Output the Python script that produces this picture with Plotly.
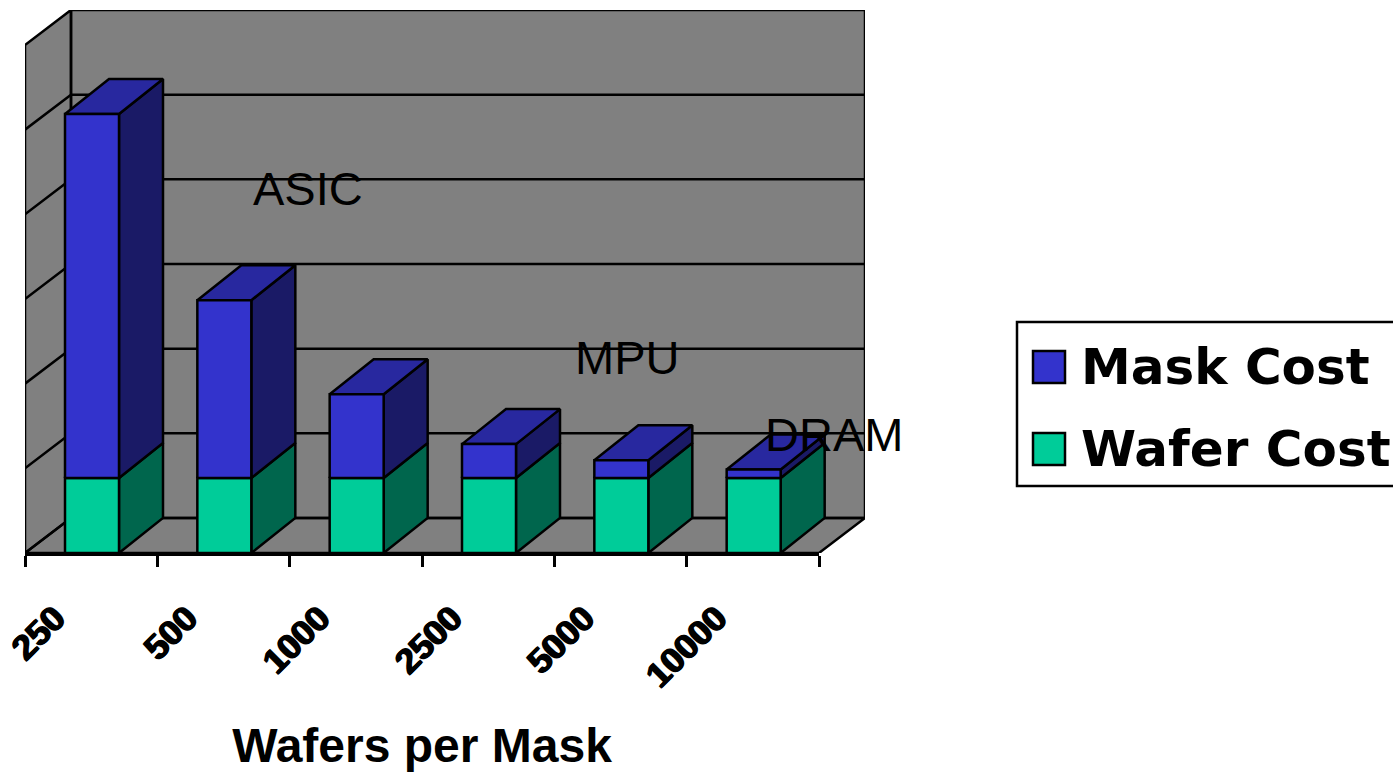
import plotly.graph_objects as go

categories = ["250", "500", "1000", "2500", "5000", "10000"]
wafer_cost = [0.886, 0.886, 0.886, 0.886, 0.886, 0.886]
mask_cost = [4.30, 2.10, 0.99, 0.40, 0.21, 0.10]
series_names = ["Mask Cost", "Wafer Cost"]
region_labels = ["ASIC", "MPU", "DRAM"]
region_x = [2.14, 4.547, 6.115]
region_y = [4.30, 2.31, 1.40]

W, H = 1393, 772
L, R, BACK_R, T, B = 25, 819, 865, 10, 553
UX = (R - L) / 6
UY = 84.67
Y_MAX = 6
DX, DY = 46 / UX, 35 / UY
BAR_DX, BAR_DY = 44 / UX, 35 / UY
BAR_L, BAR_W = 40 / UX, 54 / UX

GRAY = "#808080"
BLUE, BLUE_TOP, BLUE_SIDE = "#3333cc", "#28289f", "#1a1a66"
GREEN, GREEN_SIDE = "#00cc99", "#00664d"
LW = 2.5


def polys(rects):
    xs, ys = [], []
    for r in rects:
        xs += [p[0] for p in r] + [r[0][0], None]
        ys += [p[1] for p in r] + [r[0][1], None]
    return xs, ys


def face(rects, color):
    xs, ys = polys(rects)
    return go.Scatter(x=xs, y=ys, mode="lines", fill="toself", fillcolor=color,
                      line=dict(color="black", width=LW),
                      hoverinfo="skip", showlegend=False)


n = len(categories)
fig = go.Figure()

# walls and floor
fig.add_trace(face([
    [(0, 0), (DX, DY), (DX, Y_MAX + DY), (0, Y_MAX)],
    [(DX, DY), (n + DX, DY), (n + DX, Y_MAX + DY), (DX, Y_MAX + DY)],
    [(0, 0), (n, 0), (n + DX, DY), (DX, DY)],
], GRAY))

# gridlines
gx, gy = [], []
for v in range(1, Y_MAX):
    gx += [0, DX, n + DX, None]
    gy += [v, v + DY, v + DY, None]
fig.add_trace(go.Scatter(x=gx, y=gy, mode="lines", line=dict(color="black", width=LW),
                         hoverinfo="skip", showlegend=False))

# bars
wf, ws, mf, ms, mt = [], [], [], [], []
for i in range(n):
    x0 = i + BAR_L
    x1 = x0 + BAR_W
    w = wafer_cost[i]
    top = w + mask_cost[i]
    wf.append([(x0, 0), (x1, 0), (x1, w), (x0, w)])
    ws.append([(x1, 0), (x1 + BAR_DX, BAR_DY), (x1 + BAR_DX, w + BAR_DY), (x1, w)])
    mf.append([(x0, w), (x1, w), (x1, top), (x0, top)])
    ms.append([(x1, w), (x1 + BAR_DX, w + BAR_DY), (x1 + BAR_DX, top + BAR_DY), (x1, top)])
    mt.append([(x0, top), (x1, top), (x1 + BAR_DX, top + BAR_DY), (x0 + BAR_DX, top + BAR_DY)])
for rects, color in [(ws, GREEN_SIDE), (wf, GREEN), (ms, BLUE_SIDE), (mt, BLUE_TOP), (mf, BLUE)]:
    fig.add_trace(face(rects, color))

# empty trace so the category axis (front edge of the floor) is drawn
fig.add_trace(go.Scatter(x=[None], y=[None], xaxis="x2", yaxis="y", showlegend=False, hoverinfo="skip"))

# region labels
annotations = [
    dict(x=x, y=y, text=t, showarrow=False, xanchor="center", yanchor="middle",
         font=dict(family="Liberation Sans", size=47, color="black"))
    for t, x, y in zip(region_labels, region_x, region_y)
]

# legend block
shapes = [dict(type="rect", xref="paper", yref="paper", x0=1017 / W, x1=1400 / W,
               y0=1 - 486 / H, y1=1 - 322 / H, line=dict(color="black", width=2.5),
               fillcolor="white")]
for name, color, cy in zip(series_names, [BLUE, GREEN], [367, 449]):
    shapes.append(dict(type="rect", xref="paper", yref="paper",
                       x0=1033 / W, x1=1065 / W, y0=1 - (cy + 16) / H, y1=1 - (cy - 16) / H,
                       line=dict(color="black", width=2.5), fillcolor=color))
    annotations.append(dict(xref="paper", yref="paper", x=1079 / W, y=1 - cy / H, text=name,
                            showarrow=False, xanchor="left", yanchor="middle",
                            font=dict(family="DejaVu Sans", size=50, weight="bold", color="black")))

fig.update_layout(
    width=W, height=H, margin=dict(l=0, r=0, t=0, b=0),
    paper_bgcolor="white", plot_bgcolor="rgba(0,0,0,0)", showlegend=False,
    annotations=annotations, shapes=shapes,
    xaxis=dict(domain=[L / W, BACK_R / W], range=[0, (BACK_R - L) / UX], visible=False,
               automargin=False),
    xaxis2=dict(
        domain=[L / W, R / W], range=[0, n], anchor="y", showgrid=False, zeroline=False,
        automargin=False, showline=True, linecolor="black", linewidth=LW,
        tickmode="array", tickvals=[i + 0.5 for i in range(n)], ticktext=categories,
        ticks="", tickangle=-45, ticklabelstandoff=28, ticklabelshift=-36,
        tickfont=dict(family="Liberation Sans", size=35, weight="bold", color="black",
                      shadow="1px 0 0 black, -1px 0 0 black"),
        minor=dict(tickmode="array", tickvals=list(range(n + 1)), ticks="outside",
                   ticklen=11, tickwidth=2.5, tickcolor="black", showgrid=False),
        title=dict(text="Wafers per Mask", standoff=38,
                   font=dict(family="Liberation Sans", size=48, weight="bold", color="black")),
    ),
    yaxis=dict(domain=[1 - B / H, 1 - T / H], range=[0, (B - T) / UY], visible=False,
               automargin=False),
)
fig.write_html("out.html", config=dict(displayModeBar=False),
               post_script="document.body.style.margin='0';")
